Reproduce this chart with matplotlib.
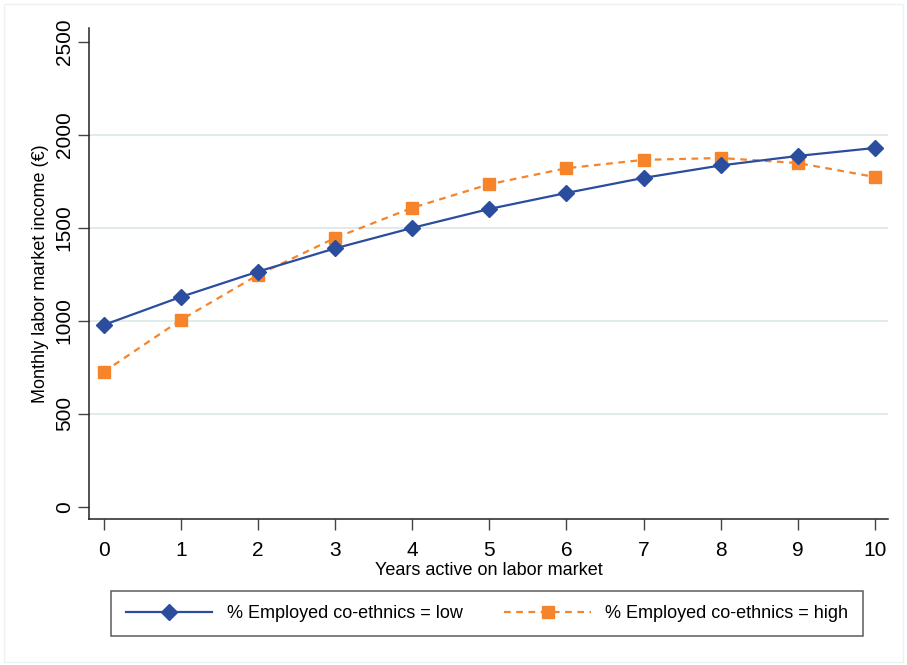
import matplotlib
matplotlib.use('Agg')
import matplotlib.pyplot as plt
from matplotlib.patches import Rectangle

plt.rcParams['font.family'] = ['Liberation Sans', 'DejaVu Sans']

years = [0, 1, 2, 3, 4, 5, 6, 7, 8, 9, 10]
income_low = [978, 1129, 1265, 1390, 1500, 1602, 1688, 1769, 1836, 1887, 1930]
income_high = [726, 1005, 1247, 1446, 1608, 1735, 1821, 1866, 1876, 1849, 1774]
yticks = [0, 500, 1000, 1500, 2000, 2500]
label_low = '% Employed co-ethnics = low'
label_high = '% Employed co-ethnics = high'

blue = '#2a4d9e'
orange = '#f5842b'

fig = plt.figure(figsize=(9.07, 6.65), dpi=100)
# light outer frame like the Stata graph region
fig.patches.append(Rectangle((0.004, 0.004), 0.992, 0.99, transform=fig.transFigure,
                             fill=False, edgecolor='#edf1f2', linewidth=1))

ax = fig.add_axes([89 / 907, 1 - 519 / 665, (888 - 89) / 907, (519 - 28) / 665])

# light horizontal grid
for y in yticks[1:-1]:
    ax.axhline(y, color='#dde8e8', linewidth=1.2, zorder=0)

ax.plot(years, income_low, color=blue, linewidth=1.6, marker='D', markersize=8,
        label=label_low, zorder=3)
ax.plot(years, income_high, color=orange, linewidth=1.6, linestyle=(0, (3, 2.5)),
        marker='s', markersize=8, label=label_high, zorder=2)

ax.set_xlim(-0.19, 10.17)
ax.set_ylim(-65, 2575)
ax.set_xticks(years)
ax.set_yticks(yticks)
ax.set_yticklabels([str(v) for v in yticks], rotation=90, va='center')
ax.tick_params(axis='both', labelsize=15, length=8, width=1, color='#444444', pad=3)
ax.tick_params(axis='x', pad=8)

for s in ['top', 'right']:
    ax.spines[s].set_visible(False)
for s in ['left', 'bottom']:
    ax.spines[s].set_linewidth(1.1)
    ax.spines[s].set_color('#222222')

ax.set_xlabel('Years active on labor market', fontsize=13, labelpad=1)
ax.set_ylabel('Monthly labor market income (\u20ac)', fontsize=13, labelpad=4)

leg = fig.legend(loc='center', bbox_to_anchor=(487 / 907, 1 - 613.5 / 665),
                 ncol=2, fontsize=13, frameon=True, fancybox=False, handlelength=4.8,
                 columnspacing=2.3, handletextpad=0.8, borderpad=0.8, borderaxespad=0)
leg.get_frame().set_edgecolor('#333333')
leg.get_frame().set_linewidth(1.1)

fig.savefig('out.png', dpi=100)
